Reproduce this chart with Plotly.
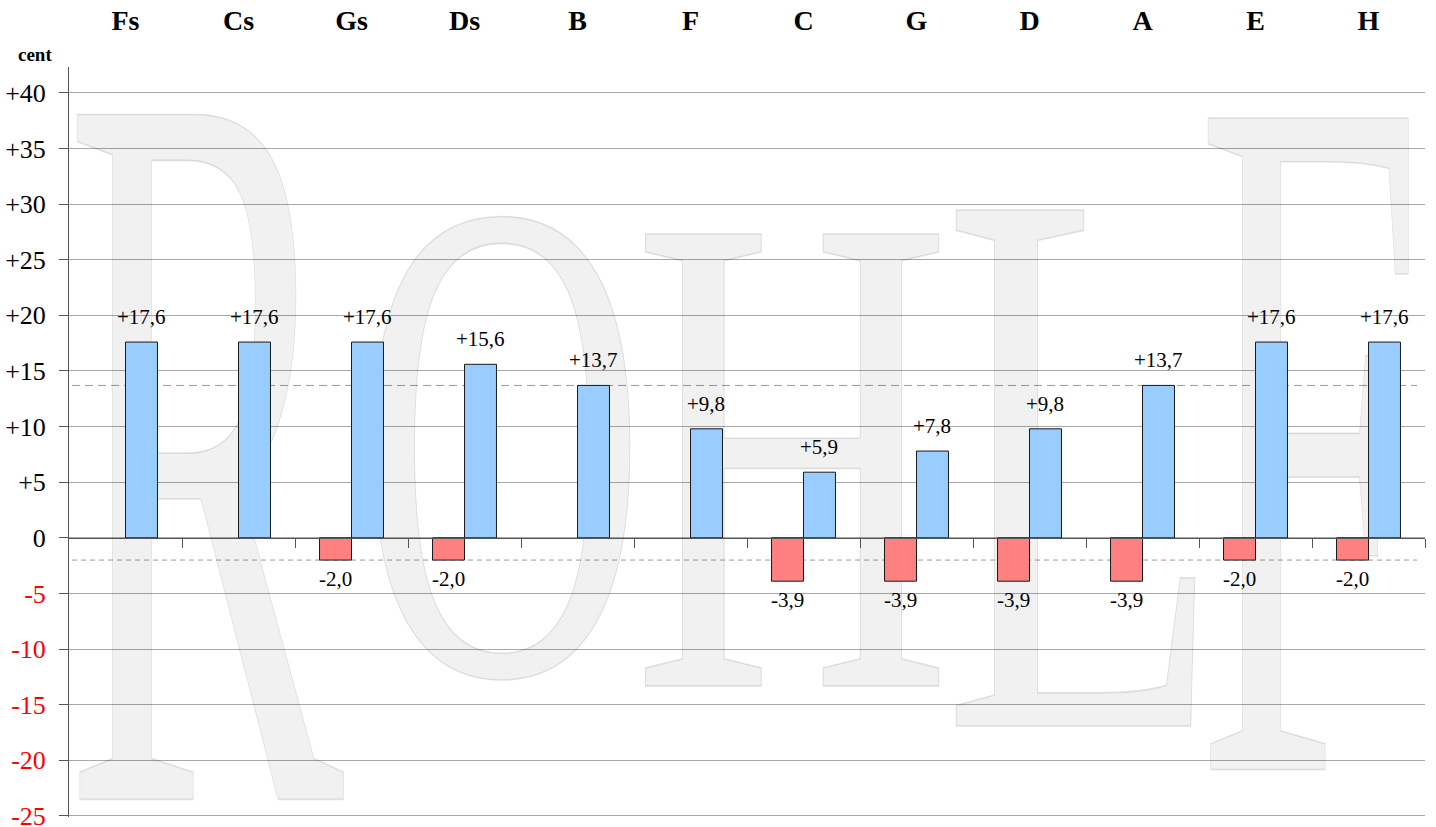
import plotly.graph_objects as go

# ---------------- data ----------------
categories = ["Fs", "Cs", "Gs", "Ds", "B", "F", "C", "G", "D", "A", "E", "H"]
pos_values = [17.6, 17.6, 17.6, 15.6, 13.7, 9.8, 5.9, 7.8, 9.8, 13.7, 17.6, 17.6]
neg_values = [None, None, -2.0, -2.0, None, None, -3.9, -3.9, -3.9, -3.9, -2.0, -2.0]
ref_lines = [13.7, -2.0]
y_ticks = [-25, -20, -15, -10, -5, 0, 5, 10, 15, 20, 25, 30, 35, 40]
unit_label = "cent"
watermark_letters = ["R", "O", "H", "L", "F"]

# ---------------- style / layout ----------------
W, H = 1436, 827
ML, MR, MT, MB = 69, 11, 67, 10
plot_w = W - ML - MR
ymin, ymax = -25.1, 42.33
BARGAP = 0.434
FONT = "Liberation Serif"

# watermark placement (style only)
wm_x = [0.70, 3.33, 5.90, 8.47, 10.48]
wm_y = [0.0, 3.33, 2.2, 0.8, 1.53]
wm_size = [1046, 690, 690, 788, 995]
wm_sx = [0.40, 0.58, 0.64, 0.58, 0.41]


def fmt(v):
    return ("%+.1f" % v).replace(".", ",")


def tick_text(v):
    if v > 0:
        return "+%d" % v
    if v < 0:
        return '<span style="color:#ff0000">%d</span>' % v
    return "0"


fig = go.Figure()

# watermark (main subplot, drawn beneath the overlay bars)
fig.add_trace(go.Scatter(
    x=wm_x, y=wm_y, mode="text",
    text=['<span style="stroke:rgba(0,0,0,0.11);stroke-width:1.6px">%s</span>' % c
          for c in watermark_letters],
    textposition="middle center",
    textfont=dict(family=FONT, size=wm_size, color="rgba(0,0,0,0.055)"),
    hoverinfo="skip", showlegend=False, xaxis="x", yaxis="y",
))

fig.add_trace(go.Bar(
    x=categories, y=neg_values, xaxis="x2", yaxis="y2",
    marker=dict(color="#ff8080", line=dict(color="#1a1a1a", width=1)),
    hoverinfo="skip", showlegend=False,
))
fig.add_trace(go.Bar(
    x=categories, y=pos_values, xaxis="x2", yaxis="y2",
    marker=dict(color="#99ccff", line=dict(color="#1a1a1a", width=1)),
    hoverinfo="skip", showlegend=False,
))

half_bar = plot_w / len(categories) * (1 - BARGAP) / 4

annotations = []
for c, v in zip(categories, pos_values):
    if v is None:
        continue
    annotations.append(dict(
        x=c, y=v, xref="x2", yref="y2", text=fmt(v), showarrow=False,
        xshift=half_bar, yanchor="bottom", yshift=11,
        font=dict(family=FONT, size=21, color="black"),
    ))
for c, v in zip(categories, neg_values):
    if v is None:
        continue
    annotations.append(dict(
        x=c, y=v, xref="x2", yref="y2", text=fmt(v), showarrow=False,
        xshift=-half_bar, yanchor="top", yshift=-5,
        font=dict(family=FONT, size=21, color="black"),
    ))
annotations.append(dict(
    x=-34 / plot_w, y=1 + 12 / (H - MT - MB), xref="paper", yref="paper",
    text=unit_label, showarrow=False, xanchor="center", yanchor="middle",
    font=dict(family=FONT, size=19, color="black", weight="bold"),
))

shapes = []
dash_styles = ["8px,5px", "5px,4px"]
for v, d in zip(ref_lines, dash_styles):
    shapes.append(dict(
        type="line", xref="x", yref="y", x0=-0.473, x1=11.43, y0=v, y1=v,
        line=dict(color="#999999", width=1, dash=d), layer="below",
    ))

zero_pos = (0 - ymin) / (ymax - ymin)

fig.update_layout(
    width=W, height=H,
    margin=dict(l=ML, r=MR, t=MT, b=MB, pad=0, autoexpand=False),
    paper_bgcolor="white", plot_bgcolor="white",
    barmode="group", bargap=BARGAP, bargroupgap=0,
    showlegend=False,
    font=dict(family=FONT, color="black"),
    annotations=annotations,
    shapes=shapes,
    xaxis=dict(
        range=[-0.5, len(categories) - 0.5], anchor="free", position=zero_pos,
        showline=True, linecolor="#555555", linewidth=1,
        ticks="outside", ticklen=9, tickcolor="#555555", tickwidth=1,
        tickvals=[i + 0.5 for i in range(len(categories))],
        showticklabels=False, showgrid=False, zeroline=False, fixedrange=True,
        automargin=False,
    ),
    yaxis=dict(
        range=[ymin, ymax], tickvals=y_ticks, ticktext=[tick_text(v) for v in y_ticks],
        showgrid=True, gridcolor="#a8a8a8", gridwidth=1,
        showline=True, linecolor="#555555", linewidth=1,
        ticks="outside", ticklen=9, tickcolor="#555555", tickwidth=1,
        zeroline=False, ticklabelstandoff=8, automargin=False,
        ticklabeloverflow="allow",
        tickfont=dict(family=FONT, size=26, color="black"), fixedrange=True,
    ),
    xaxis2=dict(
        overlaying="x", anchor="y2", side="top", type="category",
        range=[-0.5, len(categories) - 0.5],
        showgrid=False, showline=False, ticks="", zeroline=False,
        ticklabelstandoff=30, automargin=False,
        tickfont=dict(family=FONT, size=28, color="black", weight="bold"),
        fixedrange=True,
    ),
    yaxis2=dict(overlaying="y", range=[ymin, ymax], visible=False,
                fixedrange=True, automargin=False),
)

post_js = """
document.body.style.margin = '0';
document.body.style.padding = '0';
document.body.style.overflow = 'hidden';
var gd = document.getElementById('{plot_id}');
var SX = %s;
function squeezeWatermark(){
  var els = gd.querySelectorAll('g.textpoint text');
  for (var i = 0; i < els.length; i++) {
    var t = els[i];
    var x = parseFloat(t.getAttribute('x')) || 0;
    var s = SX[i %% SX.length];
    t.setAttribute('transform', 'translate(' + x + ',0) scale(' + s + ',1) translate(' + (-x) + ',0)');
  }
}
squeezeWatermark();
gd.on('plotly_afterplot', squeezeWatermark);
""" % str(wm_sx)

fig.write_html("out.html", post_script=post_js, config={"displayModeBar": False})
